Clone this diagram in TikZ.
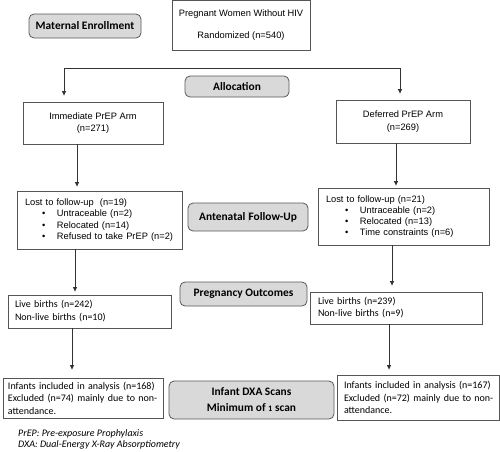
\documentclass[tikz,border=0pt]{standalone}
\usepackage{fontspec}
\setmainfont{Liberation Sans}
\newfontfamily\calfont{Carlito}
\usetikzlibrary{arrows.meta}
\definecolor{boxline}{HTML}{555555}
\definecolor{lblfill}{HTML}{D9D9D9}
\definecolor{lblline}{HTML}{595959}
\definecolor{arrline}{HTML}{333333}
\tikzset{
  plain/.style={draw=boxline, line width=0.8pt, inner sep=0pt, fill=white},
  arialtxt/.style={font=\fontsize{9.3}{11.2}\selectfont},
  caltxt/.style={font=\calfont\fontsize{10}{12.5}\selectfont},
  lbl/.style={draw=lblline, fill=lblfill, rounded corners=5pt, line width=0.8pt,
    font=\calfont\bfseries\fontsize{11.4}{16}\selectfont, inner sep=0pt, align=center},
  arr/.style={draw=arrline, line width=0.9pt, -{Triangle[length=4.5pt,width=4pt]}},
}
\newcommand{\bul}[1]{\hspace*{#1}\makebox[15pt][l]{•}}
\begin{document}
\begin{tikzpicture}[x=1pt,y=-1pt]
\useasboundingbox (0,0) rectangle (500,451);

% labels (grey, rounded)
\node[lbl, minimum width=112pt, minimum height=24pt] (enroll) at (85,26) {Maternal Enrollment};
\node[lbl, minimum width=104pt, minimum height=21pt] (alloc) at (237,86.5) {Allocation};
\node[lbl, minimum width=120pt, minimum height=28pt] (anten) at (248,217) {Antenatal {\color{lightgray}\rule[-1.5pt]{0.5pt}{11pt}}Follow-Up};
\node[lbl, minimum width=127pt, minimum height=24pt] (outc) at (243.5,294) {Pregnancy Outcomes};
\node[lbl, minimum width=165pt, minimum height=38pt] (dxa) at (251.5,400) {Infant DXA Scans\\Minimum of {\fontsize{8.4}{10}\selectfont 1} scan};

% plain boxes
\node[plain, minimum width=138pt, minimum height=50.5pt, align=center,
  font=\fontsize{9.3}{22}\selectfont] (rand) at (241,25.5) {Pregnant Women Without HIV\\Randomized (n=540)};
\node[plain, minimum width=140pt, minimum height=42pt, align=center,
  font=\fontsize{9.3}{12.5}\selectfont] (imm) at (93,123) {Immediate PrEP Arm\\(n=271)};
\node[plain, minimum width=134pt, minimum height=43pt, align=center,
  font=\fontsize{9.3}{12.5}\selectfont] (def) at (403,121.5) {Deferred PrEP Arm\\(n=269)};

\node[plain, arialtxt, text width=153pt, inner xsep=6pt, minimum height=58pt, align=left] (lostL) at (99.5,220)
  {\hspace*{2pt}Lost to follow-up\ \ (n=19)\\
   \bul{19pt}Untraceable (n=2)\\
   \bul{19pt}Relocated (n=14)\\
   \bul{19pt}Refused to take PrEP (n=2)};
\node[plain, arialtxt, text width=159pt, inner xsep=6pt, minimum height=57pt, align=left] (lostR) at (403.5,216.5)
  {\hspace*{2pt}Lost to follow-up (n=21)\\
   \bul{21pt}Untraceable (n=2)\\
   \bul{21pt}Relocated (n=13)\\
   \bul{21pt}Time constraints (n=6)};

\node[plain, text width=155pt, inner xsep=4pt, minimum height=33pt, align=left,
  font=\calfont\fontsize{10}{13}\selectfont] (liveL) at (89.5,311.5)
  {\hspace*{3pt}Live births (n=242)\\\hspace*{3pt}Non-live births (n=10)};
\node[plain, text width=164pt, inner xsep=4pt, minimum height=32pt, align=left,
  font=\calfont\fontsize{10}{12}\selectfont] (liveR) at (396,308)
  {\hspace*{4pt}Live births (n=239)\\\hspace*{4pt}Non-live births (n=9)};

\node[plain, caltxt, text width=156pt, inner xsep=2pt, minimum height=40pt, align=left] (infL) at (83,398)
  {\hspace*{3pt}Infants included in analysis (n=168)\\\hspace*{3pt}Excluded (n=74) mainly due to non-\\\hspace*{3pt}attendance.};
\node[plain, caltxt, text width=158pt, inner xsep=2pt, minimum height=45pt, align=left] (infR) at (418,397.5)
  {\hspace*{5pt}Infants included in analysis (n=167)\\\hspace*{5pt}Excluded (n=72) mainly due to non-\\\hspace*{5pt}attendance.};

\node[anchor=north west, inner sep=0pt, align=left,
  font=\calfont\itshape\fontsize{10}{11.5}\selectfont] (foot) at (18,429)
  {PrEP: Pre-exposure Prophylaxis\\DXA: Dual-Energy X-Ray Absorptiometry};

% connectors
\coordinate (hl) at (64,68);
\coordinate (hr) at (400,68);
\draw[arr, shorten >=6pt] (hr) -- (hl) -- (hl |- imm.north);
\draw[arr, shorten >=6pt] (hl) -- (hr) -- (hr |- def.north);

\draw[arr, shorten >=4pt] ([xshift=-16pt]imm.south) -- ([xshift=-16pt]imm.south |- lostL.north);
\draw[arr, shorten >=3pt] ([xshift=-24.5pt]lostL.south) -- ([xshift=-24.5pt]lostL.south |- liveL.north);
\draw[arr, shorten >=8pt] ([xshift=-17.5pt]liveL.south) -- ([xshift=-17.5pt]liveL.south |- infL.north);

\draw[arr, shorten >=2pt] ([xshift=-7pt]def.south) -- ([xshift=-7pt]def.south |- lostR.north);
\draw[arr, shorten >=6pt] ([xshift=-11.5pt]lostR.south) -- ([xshift=-11.5pt]lostR.south |- liveR.north);
\draw[arr, shorten >=5pt] ([xshift=-7pt]liveR.south) -- ([xshift=-7pt]liveR.south |- infR.north);
\end{tikzpicture}
\end{document}
